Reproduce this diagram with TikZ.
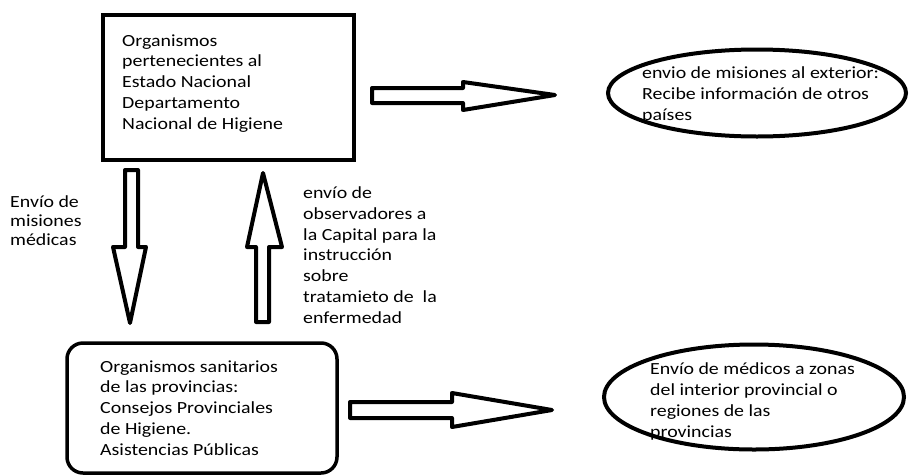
\documentclass[tikz,border=0pt]{standalone}
\usepackage{fontspec}
\setmainfont{Carlito}[FakeStretch=1.17]
\usetikzlibrary{shapes.geometric}
\begin{document}
\begin{tikzpicture}[x=1pt,y=-1pt,
  txt/.style={anchor=base west, align=left, inner sep=0pt, font=\fontsize{17}{20.7}\selectfont},
  box/.style={draw, line width=4pt, inner sep=0pt},
  ell/.style={draw, ellipse, line width=4pt, inner sep=0pt},
  blockarrow/.style={draw, line width=4pt, line join=round, fill=white}]
\useasboundingbox (0,0) rectangle (909,474);
% top box
\node[box, minimum width=251, minimum height=145] (top) at (228.5,87.5) {};
\node[txt] (toptxt) at (122,129) {Organismos\\pertenecientes al\\Estado Nacional\\Departamento\\Nacional de Higiene};
% bottom box
\node[box, rounded corners=16pt, line width=3.5pt, minimum width=270, minimum height=130] (bot) at (202,408) {};
\node[txt] (bottxt) at (100,455) {Organismos sanitarios\\de las provincias:\\Consejos Provinciales\\de Higiene.\\Asistencias Públicas};
% ellipse texts
\node[txt] (e1txt) at (642,120) {envio de misiones al exterior:\\Recibe información de otros\\países};
\node[txt] (e2txt) at (650,437) {Envío de médicos a zonas\\del interior provincial o\\regiones de las\\provincias};
% ellipses
\node[ell, minimum width=298, minimum height=87] (e1) at (757,93) {};
\node[ell, minimum width=300, minimum height=105] (e2) at (754,397) {};
% labels
\node[txt, font=\fontsize{17}{18.7}\selectfont] (lbl1) at (10,245) {Envío de\\misiones\\médicas};
\node[txt] (lbl2) at (303,323) {envío de\\observadores a\\la Capital para la\\instrucción\\sobre\\tratamieto de\ \ la\\enfermedad};
% block arrows
\draw[blockarrow] (372,88) -- (463,88) -- (463,82) -- (555,95) -- (463,110) -- (463,103) -- (372,103) -- cycle;
\draw[blockarrow] (350,402) -- (452,402) -- (452,393) -- (552,410) -- (452,427) -- (452,418) -- (350,418) -- cycle;
\draw[blockarrow] (125,170) -- (138,170) -- (138,247) -- (146,247) -- (130,323) -- (113,247) -- (125,247) -- cycle;
\draw[blockarrow] (256,322) -- (269,322) -- (269,247) -- (282,247) -- (263,173) -- (247,247) -- (256,247) -- cycle;
\end{tikzpicture}
\end{document}
